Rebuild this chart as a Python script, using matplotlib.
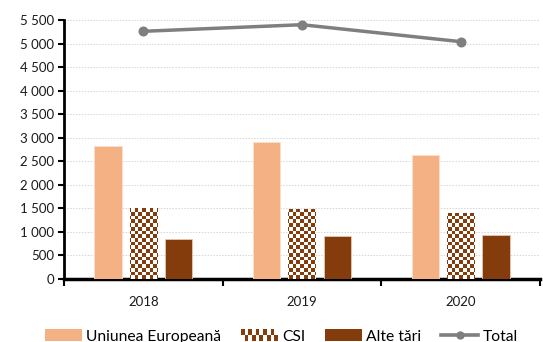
import matplotlib
matplotlib.use("Agg")
import matplotlib.pyplot as plt
import numpy as np
from matplotlib.patches import Patch, Rectangle
from matplotlib.lines import Line2D
from matplotlib.legend_handler import HandlerBase
from matplotlib.colors import ListedColormap
from matplotlib.ticker import FuncFormatter, FixedLocator

plt.rcParams['font.family'] = ['Lato', 'DejaVu Sans']

years = ['2018', '2019', '2020']
ue = [2828, 2913, 2637]
csi = [1518, 1497, 1391]
alte = [859, 914, 944]
total = [5260, 5400, 5040]
series_names = ['Uniunea Europeană', 'CSI', 'Alte țări', 'Total']

c_ue = '#F4B183'
c_brown = '#843C0C'
c_total = '#7F7F7F'

fig = plt.figure(figsize=(5.43, 3.42), dpi=100)
ax = fig.add_axes([64/543, 1-279/342, 476/543, 259/342])

x = np.arange(len(years))
w = 0.172
off = 0.223

ax.bar(x - off, ue, w, color=c_ue, edgecolor='#FBE0CC', linewidth=0.6, zorder=3)
csi_bars = ax.bar(x, csi, w, color='white', edgecolor='none', linewidth=0, zorder=3)
ax.bar(x + off, alte, w, color=c_brown, edgecolor='#E8C8B0', linewidth=0.6, zorder=3)

# checker pattern for CSI bars
nx, ny = 129, 70
ii, jj = np.meshgrid(np.arange(nx), np.arange(ny))
checker = ((ii + jj) % 2).astype(float)
cmap = ListedColormap(['white', c_brown])
for b in csi_bars:
    im = ax.imshow(checker, extent=(-0.5, 2.5, 0, 5500), aspect='auto',
                   interpolation='nearest', cmap=cmap, vmin=0, vmax=1, zorder=3.5,
                   origin='lower')
    im.set_clip_path(b)

ax.plot(x, total, color=c_total, lw=2.5, marker='o', ms=6.2, zorder=5,
        solid_capstyle='round')

ax.set_xlim(-0.5, 2.5)
ax.set_ylim(0, 5500)
ax.set_yticks(np.arange(0, 5501, 500))
ax.yaxis.set_major_formatter(FuncFormatter(lambda v, p: f"{int(v):,}".replace(',', ' ')))
ax.grid(axis='y', color='#D5D5D5', linestyle=(0, (1.5, 1.5)), linewidth=0.7, zorder=0)
ax.set_axisbelow(True)

ax.xaxis.set_major_locator(FixedLocator([-0.5, 0.5, 1.5, 2.5]))
ax.xaxis.set_minor_locator(FixedLocator(list(x)))
ax.set_xticklabels([], minor=False)
ax.set_xticklabels(years, minor=True)
ax.tick_params(axis='x', which='major', length=5, width=1.5, direction='out')
ax.tick_params(axis='x', which='minor', length=0, pad=12, labelsize=9.5,
               labelcolor='#1a1a1a')
ax.tick_params(axis='y', length=4, width=1.5, direction='out', labelsize=9.5, pad=3,
               labelcolor='#1a1a1a')

for s in ['top', 'right']:
    ax.spines[s].set_visible(False)
ax.spines['left'].set_linewidth(2)
ax.spines['bottom'].set_linewidth(2.5)


class CheckerHandler(HandlerBase):
    def create_artists(self, legend, orig_handle, xdescent, ydescent, width,
                       height, fontsize, trans):
        arts = [Rectangle((-xdescent, -ydescent), width, height, facecolor='white',
                          edgecolor='none', transform=trans)]
        cx, cy = 10, 2
        cw, ch = width / cx, height / cy
        for i in range(cx):
            for j in range(cy):
                if (i + j) % 2:
                    arts.append(Rectangle((-xdescent + i * cw, -ydescent + j * ch), cw, ch,
                                          facecolor=c_brown, edgecolor='none',
                                          transform=trans))
        return arts


class CheckerKey:
    pass


handles = [Patch(facecolor=c_ue, edgecolor='none'),
           CheckerKey(),
           Patch(facecolor=c_brown, edgecolor='none'),
           Line2D([], [], color=c_total, lw=2.6, marker='o', ms=5)]
fig.legend(handles, series_names, loc='center', bbox_to_anchor=(0.518, 0.016),
           ncol=4, frameon=False, fontsize=11.25, handlelength=2.37,
           handleheight=0.75, handletextpad=0.26, columnspacing=1.28,
           borderpad=0, handler_map={CheckerKey: CheckerHandler()})

fig.savefig('out.png', dpi=100)
